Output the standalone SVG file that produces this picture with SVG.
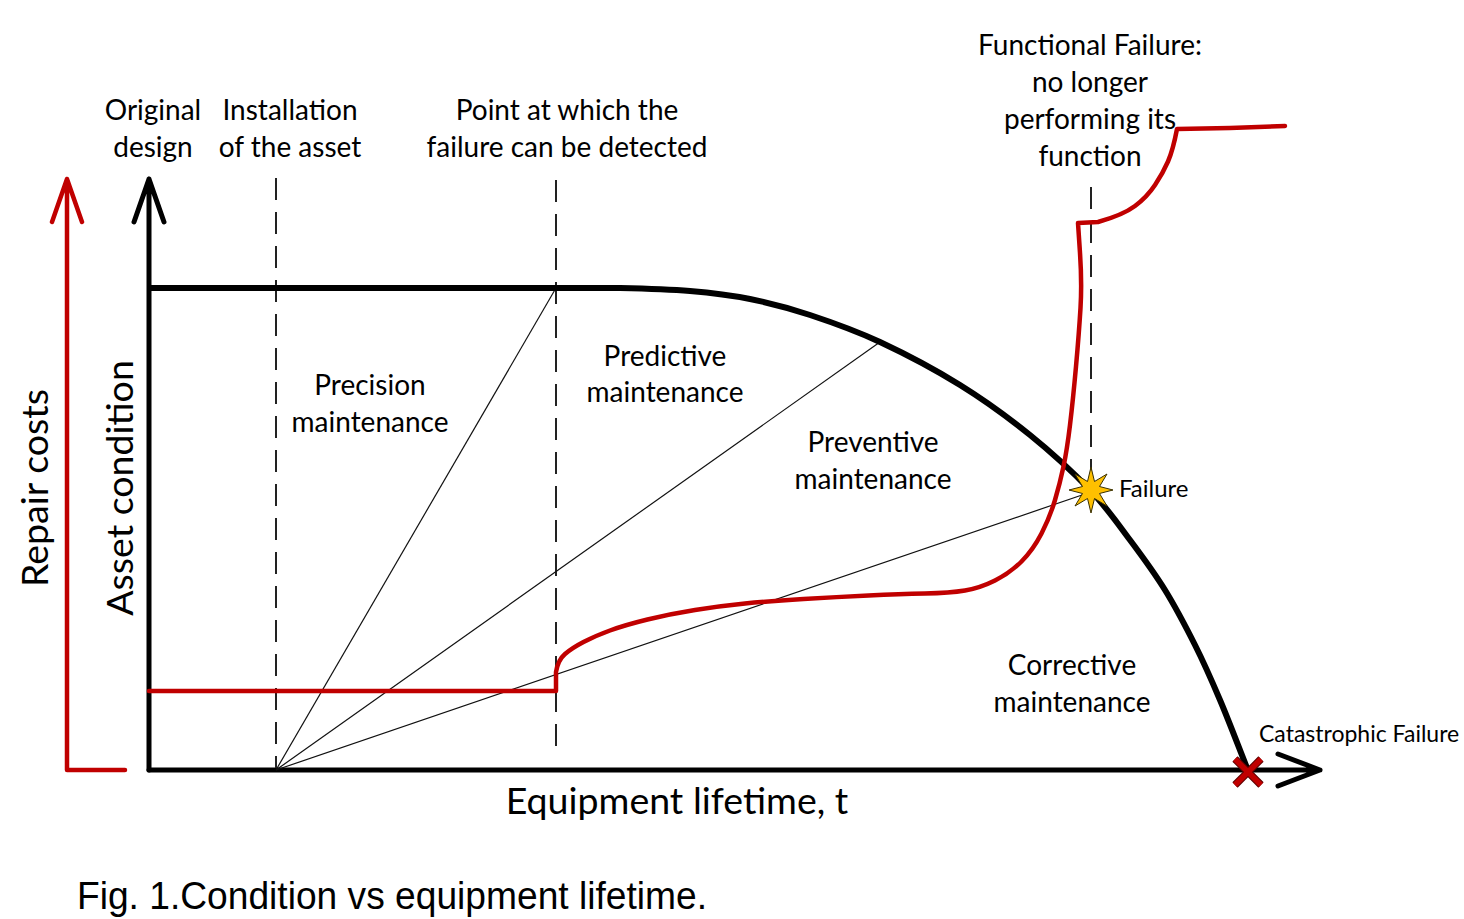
<svg xmlns="http://www.w3.org/2000/svg" width="1464" height="919" viewBox="0 0 1464 919">
<style>
.lbl{font-family:Lato,"Open Sans","DejaVu Sans",sans-serif;font-size:28px;fill:#000;text-anchor:middle}
.big{font-family:Lato,"Open Sans","DejaVu Sans",sans-serif;font-size:37.5px;fill:#000;text-anchor:middle}
.sm{font-family:Lato,"Open Sans","DejaVu Sans",sans-serif;font-size:24px;fill:#000}
.cap{font-family:"Liberation Sans",Arial,sans-serif;font-size:39px;fill:#000}
.axis{fill:none;stroke:#000;stroke-width:5;stroke-linecap:round;stroke-linejoin:round}
.raxis{fill:none;stroke:#C00000;stroke-width:4.5;stroke-linecap:round;stroke-linejoin:round}
.dash{fill:none;stroke:#222;stroke-width:2;stroke-dasharray:22 12}
.thin{fill:none;stroke:#111;stroke-width:1.2}
.cond{fill:none;stroke:#000;stroke-width:6;stroke-linejoin:round}
.cost{fill:none;stroke:#C00000;stroke-width:4.5;stroke-linejoin:round;stroke-linecap:round}
</style>
<rect width="1464" height="919" fill="#fff"/>

<g id="axes">
  <path class="raxis" d="M67,770 V179 M52,222 L67,179 L82,222 M67,770 H125"/>
  <path class="axis" d="M149,770 V179 M134,222 L149,179 L164,222"/>
  <path class="axis" d="M149,770 H1320 M1278,754 L1320,770 L1278,786"/>
</g>

<g id="connectors">
  <path class="dash" d="M276,178 V768"/>
  <path class="dash" d="M556,180 V757"/>
  <path class="dash" d="M1091,187 V478"/>
  <path class="thin" d="M276,770 L556,288"/>
  <path class="thin" d="M276,770 L880,342"/>
  <path class="thin" d="M276,770 L1085,494"/>
  <path id="condition-curve" class="cond" d="M149,288 L620,288 C642.3,288.5 668.3,289.2 690,291 C711.7,292.8 730,295 750,299 C770,303 788.3,307.8 810,315 C831.7,322.2 855,330.3 880,342 C905,353.7 935,369.5 960,385 C985,400.5 1008.3,417.5 1030,435 C1051.7,452.5 1073.3,472.5 1090,490 C1106.7,507.5 1117.5,523.3 1130,540 C1142.5,556.7 1154.2,572.5 1165,590 C1175.8,607.5 1185.8,626.7 1195,645 C1204.2,663.3 1211.3,679.5 1220,700 C1228.7,720.5 1238,745.3 1247,768"/>
  <path id="cost-curve" class="cost" d="M149,691 H556 V672 Q558,660 565,654 Q572,648 583.5,642 Q595,636 610,630.5 Q625,625 647.5,619.5 Q670,614 695,610 Q720,606 745,603.5 Q770,601 803.5,599 Q837,597 868.5,595.5 Q900,594 925,593.5 Q950,593 965,590.5 Q980,588 995,580.5 Q1010,573 1021.5,561.5 Q1033,550 1041.5,533.5 Q1050,517 1055,500 Q1060,483 1063.5,466.5 Q1067,450 1070,425 Q1073,400 1076,366.5 Q1079,333 1080.5,308 Q1082,283 1080,253 L1078,223 L1098,222 Q1123,215 1135,206 Q1147,197 1155,185 Q1163,173 1168,161.5 Q1173,150 1177,129 L1230,128 L1285,126"/>
</g>

<g id="failure-star">
  <polygon points="1091,467 1094.5,481.5 1107,474 1099.5,486.5 1113,490 1099.5,493.5 1107,506 1094.5,498.5 1091,513 1087.5,498.5 1075,506 1082.5,493.5 1069,490 1082.5,486.5 1075,474 1087.5,481.5" fill="#FFC000" stroke="#3a3000" stroke-width="1" stroke-linejoin="miter"/>
</g>
<g id="catastrophic-x">
  <path d="M1235,759 L1261,785 M1261,759 L1235,785" stroke="#5a0000" stroke-width="7.5" stroke-linecap="butt"/>
  <path d="M1235,759 L1261,785 M1261,759 L1235,785" stroke="#C00000" stroke-width="5.5" stroke-linecap="butt"/>
</g>

<g id="original-design"><text class="lbl" x="153" y="120">Original</text><text class="lbl" x="153" y="157">design</text></g>
<g id="installation"><text class="lbl" x="290" y="120">Installation</text><text class="lbl" x="290" y="157">of the asset</text></g>
<g id="detection-point"><text class="lbl" x="567" y="120">Point at which the</text><text class="lbl" x="567" y="157">failure can be detected</text></g>
<g id="functional-failure">
  <text class="lbl" x="1090" y="55">Functional Failure:</text>
  <text class="lbl" x="1090" y="92">no longer</text>
  <text class="lbl" x="1090" y="129">performing its</text>
  <text class="lbl" x="1090" y="166">function</text>
</g>
<g id="precision"><text class="lbl" x="370" y="395">Precision</text><text class="lbl" x="370" y="432">maintenance</text></g>
<g id="predictive"><text class="lbl" x="665" y="366">Predictive</text><text class="lbl" x="665" y="402">maintenance</text></g>
<g id="preventive"><text class="lbl" x="873" y="452">Preventive</text><text class="lbl" x="873" y="489">maintenance</text></g>
<g id="corrective"><text class="lbl" x="1072" y="675">Corrective</text><text class="lbl" x="1072" y="712">maintenance</text></g>
<g id="failure-label"><text class="sm" x="1119" y="497">Failure</text></g>
<g id="catastrophic-label"><text class="sm" x="1259" y="742" style="font-size:23px">Catastrophic Failure</text></g>
<g id="x-axis-label"><text class="big" x="677" y="814">Equipment lifetime, t</text></g>
<g id="y-axis-label"><text class="big" transform="translate(133,488) rotate(-90)">Asset condition</text></g>
<g id="cost-axis-label"><text class="big" transform="translate(48,488) rotate(-90)">Repair costs</text></g>
<g id="caption"><text class="cap" x="77" y="909" textLength="630" lengthAdjust="spacingAndGlyphs">Fig. 1.Condition vs equipment lifetime.</text></g>
</svg>
